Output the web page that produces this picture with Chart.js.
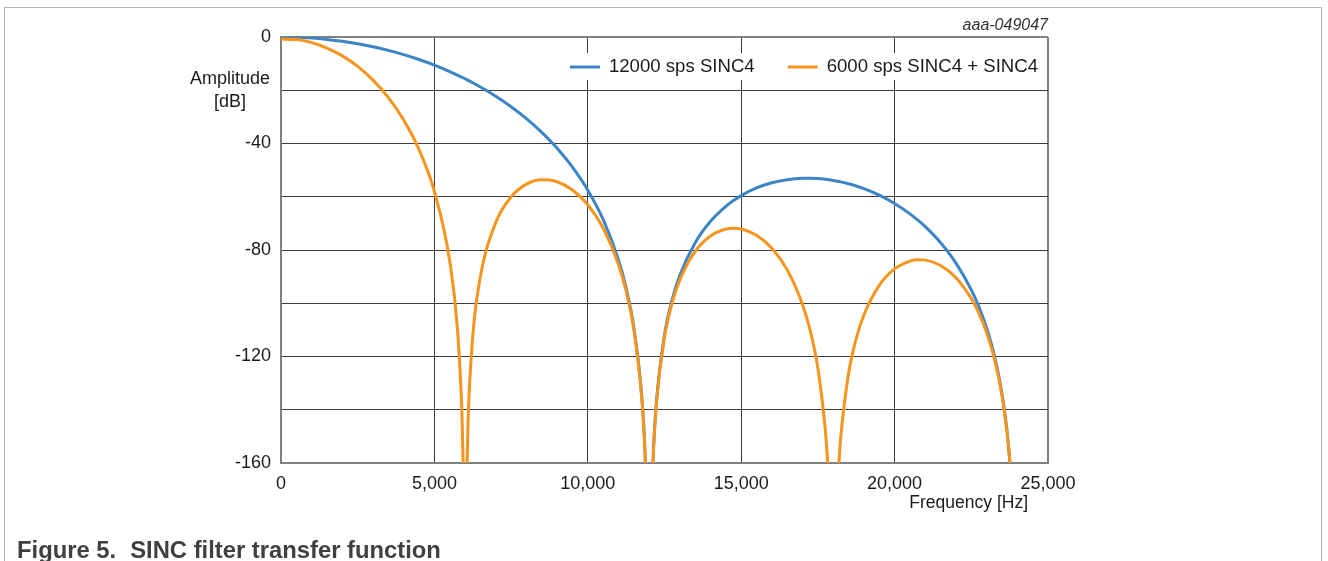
<!DOCTYPE html>
<html>
<head>
<meta charset="utf-8">
<script src="https://cdn.jsdelivr.net/npm/chart.js@4.4.1/dist/chart.umd.min.js"></script>
<style>
html, body { margin: 0; padding: 0; background: #fff; overflow: hidden; }
#frame { position: absolute; left: 4px; top: 7px; width: 1316px; height: 600px; border: 1px solid #b4b4b4; }
#wrap { position: absolute; left: 0; top: 0; width: 1328px; height: 561px; }
#caption { position: absolute; left: 17px; top: 536px; font: bold 23.8px 'Liberation Sans', Arial, sans-serif; color: #404040; white-space: nowrap; }
</style>
</head>
<body>
<div id="frame"></div>
<div id="wrap"><canvas id="sincChart" width="1328" height="561"></canvas></div>
<div id="caption">Figure 5.<span style="margin-left:14px">SINC filter transfer function</span></div>
<script>
// frequency points [Hz]
const freqHz = [
  0, 500, 1000, 1500, 2000, 2500, 3000, 3500, 4000, 4500,
  5000, 5500, 5750, 5900, 5950, 6000, 6050, 6100, 6250, 6500,
  7000, 7500, 8000, 8500, 8750, 9000, 9500, 10000, 10500, 11000,
  11250, 11500, 11750, 11850, 11900, 12000, 12100, 12150, 12250, 12500,
  12750, 13000, 13500, 14000, 14500, 14750, 15000, 15500, 16000, 16500,
  17000, 17250, 17500, 17750, 17800, 17850, 18000, 18150, 18200, 18250,
  18500, 18750, 19000, 19500, 20000, 20500, 20750, 21000, 21500, 22000,
  22500, 22750, 23000, 23250, 23500, 23650, 23750, 23800, 24000
];

// amplitude [dB], 12000 sps SINC4
const sinc4_12k = [
  0, -0.10, -0.40, -0.90, -1.60, -2.52, -3.65, -5.01, -6.60, -8.45,
  -10.56, -12.97, -14.29, -15.12, -15.40, -15.69, -15.98, -16.28, -17.18, -18.77,
  -22.25, -26.19, -30.68, -35.83, -38.71, -41.82, -48.90, -57.52, -68.51, -83.71,
  -94.31, -109.04, -133.79, -151.82, -166.05, -200, -166.62, -152.69, -135.24, -111.93,
  -98.66, -89.51, -77.24, -69.21, -63.59, -61.41, -59.57, -56.71, -54.76, -53.59,
  -53.08, -53.05, -53.18, -53.45, -53.52, -53.59, -53.86, -54.17, -54.29, -54.41,
  -55.11, -55.95, -56.94, -59.39, -62.52, -66.42, -68.71, -71.25, -77.28, -84.91,
  -94.99, -101.43, -109.34, -119.53, -133.87, -146.43, -158.24, -166.06, -200
];

// amplitude [dB], 6000 sps SINC4 + SINC4
const sinc4x2_6k = [
  -0.8, -0.9, -2.10, -4.15, -7.10, -11.06, -16.19, -22.75, -31.18, -42.32,
  -58.02, -84.21, -109.54, -142.19, -166.55, -200, -167.10, -143.35, -112.43, -90.01,
  -69.71, -60.07, -55.26, -53.58, -53.68, -54.36, -57.44, -63.02, -71.76, -85.41,
  -95.48, -109.84, -134.37, -152.35, -166.57, -200, -167.14, -153.22, -135.81, -112.73,
  -99.83, -91.22, -80.49, -74.71, -72.13, -71.82, -72.11, -74.45, -79.34, -87.46,
  -100.54, -110.33, -124.42, -148.70, -156.52, -166.57, -200, -167.15, -157.29, -149.66,
  -126.35, -113.23, -104.40, -93.27, -87.10, -84.16, -83.68, -83.80, -85.82, -90.41,
  -98.24, -103.82, -111.04, -120.70, -134.67, -147.08, -158.81, -166.60, -200
];

const seriesNames = ['12000 sps SINC4', '6000 sps SINC4 + SINC4'];
const yLabeled = [0, -40, -80, -120, -160];

Chart.defaults.font.family = "'Liberation Sans', Arial, sans-serif";
Chart.defaults.font.size = 18;
Chart.defaults.color = '#1a1a1a';

const BLUE = '#3b84c6';
const ORANGE = '#f7941d';
const EDGE = '#808080';
const GRID = '#3c3c3c';

const toPoints = vals => freqHz.map((f, i) => ({x: f, y: vals[i]}));

const annotations = {
  id: 'annotations',
  beforeDatasetsDraw(chart) {
    const {ctx, chartArea: a} = chart;
    ctx.save();
    ctx.font = "18.6px 'Liberation Sans', Arial, sans-serif";
    // legend inside the plot, right aligned
    const items = chart.data.datasets.map(d => ({label: d.label, color: d.borderColor, w: 30 + 9 + ctx.measureText(d.label).width}));
    const total = items.reduce((s, it) => s + it.w, 0) + 33 * (items.length - 1);
    let x = a.right - 10 - total;
    const ly = a.top + 30;
    ctx.fillStyle = '#fff';
    ctx.fillRect(x - 14, a.top + 16, a.right - 1 - (x - 14), 27);
    ctx.textBaseline = 'middle';
    items.forEach(it => {
      ctx.strokeStyle = it.color;
      ctx.lineWidth = 3;
      ctx.beginPath();
      ctx.moveTo(x, ly);
      ctx.lineTo(x + 30, ly);
      ctx.stroke();
      ctx.fillStyle = '#1a1a1a';
      ctx.textAlign = 'left';
      ctx.fillText(it.label, x + 39, ly);
      x += it.w + 33;
    });
    // y axis title
    ctx.font = "18px 'Liberation Sans', Arial, sans-serif";
    ctx.textAlign = 'center';
    ctx.fillText('Amplitude', a.left - 51, a.top + 42);
    ctx.fillText('[dB]', a.left - 51, a.top + 65);
    // x axis title
    ctx.font = "17.5px 'Liberation Sans', Arial, sans-serif";
    ctx.textAlign = 'right';
    ctx.fillText('Frequency [Hz]', a.right - 20, a.bottom + 40);
    // figure id
    ctx.font = "italic 16px 'Liberation Sans', Arial, sans-serif";
    ctx.fillStyle = '#333';
    ctx.fillText('aaa-049047', a.right, a.top - 11);
    ctx.restore();
  }
};

new Chart('sincChart', {
  type: 'line',
  data: {
    datasets: [
      {label: seriesNames[0], data: toPoints(sinc4_12k), borderColor: BLUE, borderWidth: 3, order: 2},
      {label: seriesNames[1], data: toPoints(sinc4x2_6k), borderColor: ORANGE, borderWidth: 3, order: 1}
    ]
  },
  options: {
    responsive: false,
    animation: false,
    layout: {padding: {left: 0, top: 37, right: 280, bottom: 38}},
    elements: {
      point: {radius: 0},
      line: {cubicInterpolationMode: 'monotone', fill: false}
    },
    plugins: {legend: {display: false}, tooltip: {enabled: false}},
    scales: {
      x: {
        type: 'linear',
        min: 0,
        max: 25000,
        afterFit: s => { s.height = 60; },
        ticks: {stepSize: 5000, padding: 10, maxRotation: 0, callback: v => v.toLocaleString('en-US')},
        grid: {
          drawTicks: false,
          color: c => (c.tick && (c.tick.value === 0 || c.tick.value === 25000)) ? EDGE : GRID,
          lineWidth: c => (c.tick && (c.tick.value === 0 || c.tick.value === 25000)) ? 2 : 1
        },
        border: {color: EDGE, width: 2}
      },
      y: {
        min: -160,
        max: 0,
        afterFit: s => { s.width = 281; },
        ticks: {stepSize: 20, padding: 10, callback: v => yLabeled.includes(v) ? String(v) : ''},
        grid: {
          drawTicks: false,
          color: c => (c.tick && (c.tick.value === 0 || c.tick.value === -160)) ? EDGE : GRID,
          lineWidth: c => (c.tick && (c.tick.value === 0 || c.tick.value === -160)) ? 2 : 1
        },
        border: {color: EDGE, width: 2}
      }
    }
  },
  plugins: [annotations]
});
</script>
</body>
</html>
